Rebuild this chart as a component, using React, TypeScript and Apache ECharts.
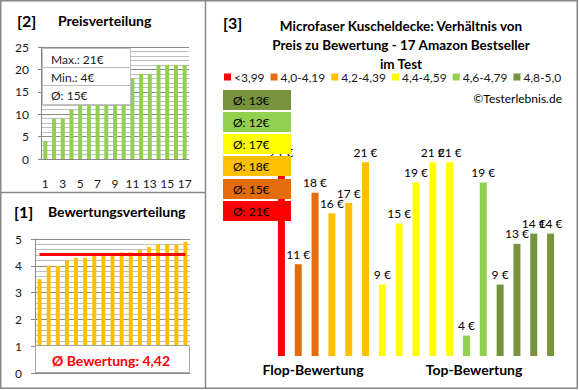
import React, { useEffect, useRef } from 'react';
import * as echarts from 'echarts';

// ---- data ----
const priceRanks = ['1', '2', '3', '4', '5', '6', '7', '8', '9', '10', '11', '12', '13', '14', '15', '16', '17'];
const pricesSorted = [4, 9, 9, 11, 13, 14, 14, 15, 16, 17, 18, 19, 19, 21, 21, 21, 21];
const ratingsSorted = [3.5, 4.0, 4.0, 4.2, 4.3, 4.3, 4.4, 4.4, 4.4, 4.5, 4.5, 4.6, 4.7, 4.8, 4.8, 4.8, 4.9];
const avgRating = 4.42;
const avgRatingText = '4,42';
const priceMax = 21;
const priceMin = 4;
const priceAvg = 15;
const productPrices = [21, 11, 18, 16, 17, 21, 9, 15, 19, 21, 21, 4, 19, 9, 13, 14, 14];
const productGroup = [0, 1, 1, 2, 2, 2, 3, 3, 3, 3, 3, 4, 4, 5, 5, 5, 5];
const groupNames = ['<3,99', '4,0-4,19', '4,2-4,39', '4,4-4,59', '4,6-4,79', '4,8-5,0'];
const groupColors = ['#FF0000', '#E46C0A', '#FFC000', '#FFFF00', '#92D050', '#77933C'];
const groupAvgPrice = [21, 15, 18, 17, 12, 13];
const mainTitleLines = [
  'Microfaser Kuscheldecke: Verhältnis von',
  'Preis zu Bewertung - 17 Amazon Bestseller',
  'im Test',
];

const FONT = 'Lato, "Open Sans", sans-serif';
const TXT = '#1a1a1a';

export default function App() {
  const ref = useRef<HTMLDivElement>(null);

  useEffect(() => {
    if (!ref.current) return;
    const chart = echarts.init(ref.current, undefined, { renderer: 'svg' });
    const idx = productPrices.map((_, i) => String(i + 1));

    const mainSeries = groupNames.map((name, g) => ({
      name,
      type: 'bar',
      xAxisIndex: 2,
      yAxisIndex: 2,
      barWidth: 7,
      barGap: '-100%',
      itemStyle: { color: groupColors[g] },
      label: {
        show: true,
        position: 'top',
        distance: 4,
        formatter: (p: any) => `${p.value} €`,
        fontSize: 12,
        fontFamily: FONT,
        color: '#000',
      },
      data: productPrices.map((v, i) => (productGroup[i] === g ? v : '-')),
      z: 2,
    }));

    // boxes with group averages (top -> bottom: best group first)
    const boxOrder = [5, 4, 3, 2, 1, 0];
    const boxTops = [90, 112, 134, 156, 179, 201];
    const boxGraphics: any[] = [];
    boxOrder.forEach((g, k) => {
      boxGraphics.push({
        type: 'rect',
        z: 100,
        shape: { x: 223, y: boxTops[k], width: 68, height: 20 },
        style: { fill: groupColors[g] },
      });
      boxGraphics.push({
        type: 'text',
        z: 101,
        x: 233,
        y: boxTops[k] + 10,
        style: {
          text: `Ø: ${groupAvgPrice[g]}€`,
          fontSize: 12,
          fontFamily: FONT,
          fill: '#000',
          verticalAlign: 'middle',
        },
      });
    });

    const option: any = {
      animation: false,
      backgroundColor: '#fff',
      legend: {
        data: groupNames,
        left: 224,
        top: 71,
        padding: 0,
        icon: 'rect',
        itemWidth: 7,
        itemHeight: 7,
        itemGap: 6,
        textStyle: { fontSize: 12, fontFamily: FONT, color: TXT, padding: [0, 0, 0, -2] },
        selectedMode: false,
      },
      grid: [
        { left: 41, top: 47, width: 148, height: 112 },
        { left: 35, top: 239, width: 155, height: 134 },
        { left: 273, top: 152, width: 286, height: 204 },
      ],
      xAxis: [
        {
          type: 'category',
          gridIndex: 0,
          data: priceRanks,
          axisLine: { lineStyle: { color: '#888' } },
          axisTick: { show: false },
          axisLabel: { interval: 1, fontSize: 12, fontFamily: FONT, color: TXT, margin: 18 },
        },
        {
          type: 'category',
          gridIndex: 1,
          data: priceRanks,
          axisLine: { lineStyle: { color: '#888' } },
          axisTick: { show: false },
          axisLabel: { show: false },
        },
        {
          type: 'category',
          gridIndex: 2,
          data: idx,
          show: false,
        },
      ],
      yAxis: [
        {
          type: 'value',
          gridIndex: 0,
          min: 0,
          max: 25,
          interval: 5,
          axisLine: { show: true, lineStyle: { color: '#888' } },
          axisTick: { show: true, length: 3, lineStyle: { color: '#888' } },
          axisLabel: { fontSize: 12, fontFamily: FONT, color: TXT, margin: 12 },
          splitLine: { lineStyle: { color: '#8C8C8C' } },
          minorTick: { show: false, splitNumber: 5 },
          minorSplitLine: { show: true, lineStyle: { color: '#BFBFBF' } },
        },
        {
          type: 'value',
          gridIndex: 1,
          min: 0,
          max: 5,
          interval: 1,
          axisLine: { show: true, lineStyle: { color: '#888' } },
          axisTick: { show: true, length: 4, lineStyle: { color: '#888' } },
          axisLabel: { fontSize: 12, fontFamily: FONT, color: TXT, margin: 13 },
          splitLine: { lineStyle: { color: '#8C8C8C' } },
          minorTick: { show: false, splitNumber: 5 },
          minorSplitLine: { show: true, lineStyle: { color: '#BFBFBF' } },
        },
        {
          type: 'value',
          gridIndex: 2,
          min: 2,
          max: 22,
          show: false,
        },
      ],
      series: [
        {
          type: 'bar',
          xAxisIndex: 0,
          yAxisIndex: 0,
          barWidth: 4,
          itemStyle: { color: '#92D050' },
          data: pricesSorted,
        },
        {
          type: 'bar',
          xAxisIndex: 1,
          yAxisIndex: 1,
          barWidth: 4,
          itemStyle: { color: '#FFC000' },
          data: ratingsSorted,
          markLine: {
            silent: true,
            symbol: 'none',
            label: { show: false },
            lineStyle: { color: '#FF0000', width: 3, type: 'solid' },
            data: [[{ xAxis: 0, yAxis: avgRating }, { xAxis: ratingsSorted.length - 1, yAxis: avgRating }]],
          },
        },
        ...mainSeries,
      ],
      graphic: [
        // frame
        { type: 'rect', z: 200, shape: { x: 0.75, y: 0.75, width: 576.5, height: 387.5 }, style: { fill: 'none', stroke: '#888', lineWidth: 1.5 } },
        { type: 'line', z: 200, shape: { x1: 205.5, y1: 0, x2: 205.5, y2: 389 }, style: { stroke: '#888', lineWidth: 1.5 } },
        { type: 'line', z: 200, shape: { x1: 0, y1: 192.5, x2: 205.5, y2: 192.5 }, style: { stroke: '#888', lineWidth: 1.5 } },
        // panel 2 titles
        { type: 'text', z: 100, x: 17, y: 20, style: { text: '[2]', fontSize: 16, fontWeight: 'bold', fontFamily: FONT, fill: '#000', verticalAlign: 'middle' } },
        { type: 'text', z: 100, x: 58, y: 20, style: { text: 'Preisverteilung', fontSize: 14, fontWeight: 'bold', fontFamily: FONT, fill: '#000', verticalAlign: 'middle' } },
        // panel 2 stat box
        { type: 'rect', z: 100, shape: { x: 42.5, y: 48.5, width: 88, height: 56 }, style: { fill: '#fff', stroke: '#BFBFBF', lineWidth: 1 } },
        { type: 'line', z: 101, shape: { x1: 42.5, y1: 67.5, x2: 130.5, y2: 67.5 }, style: { stroke: '#BFBFBF', lineWidth: 1 } },
        { type: 'line', z: 101, shape: { x1: 42.5, y1: 85.5, x2: 130.5, y2: 85.5 }, style: { stroke: '#BFBFBF', lineWidth: 1 } },
        { type: 'text', z: 102, x: 51, y: 59, style: { text: `Max.: ${priceMax}€`, fontSize: 12, fontFamily: FONT, fill: TXT, verticalAlign: 'middle' } },
        { type: 'text', z: 102, x: 51, y: 77, style: { text: `Min.: ${priceMin}€`, fontSize: 12, fontFamily: FONT, fill: TXT, verticalAlign: 'middle' } },
        { type: 'text', z: 102, x: 51, y: 95, style: { text: `Ø: ${priceAvg}€`, fontSize: 12, fontFamily: FONT, fill: TXT, verticalAlign: 'middle' } },
        // panel 1 titles
        { type: 'text', z: 100, x: 14, y: 211, style: { text: '[1]', fontSize: 16, fontWeight: 'bold', fontFamily: FONT, fill: '#000', verticalAlign: 'middle' } },
        { type: 'text', z: 100, x: 48, y: 211, style: { text: 'Bewertungsverteilung', fontSize: 14, fontWeight: 'bold', fontFamily: FONT, fill: '#000', verticalAlign: 'middle' } },
        // panel 1 avg box
        { type: 'rect', z: 100, shape: { x: 35.5, y: 345.5, width: 154, height: 27 }, style: { fill: '#fff', stroke: '#A6A6A6', lineWidth: 1 } },
        { type: 'text', z: 101, x: 111, y: 360, style: { text: `Ø Bewertung: ${avgRatingText}`, fontSize: 14, fontWeight: 'bold', fontFamily: FONT, fill: '#FF0000', align: 'center', verticalAlign: 'middle' } },
        // panel 3 titles
        { type: 'text', z: 100, x: 223, y: 22, style: { text: '[3]', fontSize: 16, fontWeight: 'bold', fontFamily: FONT, fill: '#000', verticalAlign: 'middle' } },
        ...mainTitleLines.map((t, i) => ({
          type: 'text', z: 100, x: 401, y: 26 + i * 19,
          style: { text: t, fontSize: 13.5, fontWeight: 'bold', fontFamily: FONT, fill: '#000', align: 'center', verticalAlign: 'middle' },
        })),
        { type: 'text', z: 100, x: 562, y: 98, style: { text: '©Testerlebnis.de', fontSize: 12, fontFamily: FONT, fill: '#000', align: 'right', verticalAlign: 'middle' } },
        ...boxGraphics,
        { type: 'text', z: 100, x: 313, y: 369, style: { text: 'Flop-Bewertung', fontSize: 14, fontWeight: 'bold', fontFamily: FONT, fill: '#000', align: 'center', verticalAlign: 'middle' } },
        { type: 'text', z: 100, x: 474, y: 369, style: { text: 'Top-Bewertung', fontSize: 14, fontWeight: 'bold', fontFamily: FONT, fill: '#000', align: 'center', verticalAlign: 'middle' } },
      ],
    };

    chart.setOption(option);
    return () => chart.dispose();
  }, []);

  return (
    <div
      ref={ref}
      style={{ position: 'absolute', left: 0, top: 0, width: 580, height: 390, background: '#fff' }}
    />
  );
}
